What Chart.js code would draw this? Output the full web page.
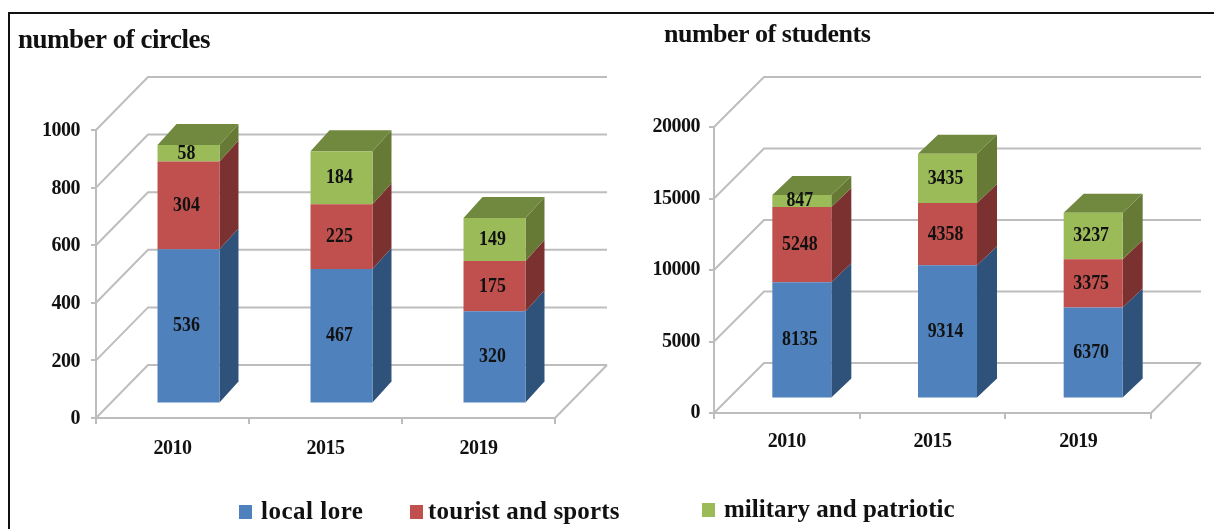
<!DOCTYPE html>
<html><head><meta charset="utf-8">
<script src="https://cdn.jsdelivr.net/npm/chart.js@4"></script>
<style>
html,body{margin:0;padding:0;background:#fff;width:1214px;height:529px;overflow:hidden}
#frame{position:absolute;left:8px;top:12px;width:1300px;height:600px;border:2px solid #111;box-sizing:border-box}
canvas{position:absolute;top:0;filter:blur(.45px)}
#c1{left:0}#c2{left:610px}
.lg{position:absolute;font:bold 25px "Liberation Serif",serif;white-space:nowrap;color:#111;filter:blur(.35px)}
.sw{position:absolute;width:13px;height:14px;filter:blur(.3px)}
</style></head><body>
<div id="frame"></div>
<canvas id="c1" width="610" height="529"></canvas>
<canvas id="c2" width="604" height="529"></canvas>
<div id="legend"></div>
<script>
const categories = ['2010','2015','2019'];
const seriesNames = ['local lore','tourist and sports','military and patriotic'];
const circlesLocalLore = [536,467,320];
const circlesTourist = [304,225,175];
const circlesMilitary = [58,184,149];
const studentsLocalLore = [8135,9314,6370];
const studentsTourist = [5248,4358,3375];
const studentsMilitary = [847,3435,3237];
const frontColors = ['#4F81BD','#C0504D','#9BBB59'];
const sideColors = ['#2F527B','#7B3130','#667A36'];
const topColor = '#71893F';
const gridColor = '#BDBDBD';
const serif = '"Liberation Serif"';

const bar3d = {
  id:'bar3d',
  afterLayout(chart,args,o){ chart.titleBlock.left = o.titleX; },
  beforeDraw(chart){ chart.ctx.letterSpacing = '-0.5px'; },
  beforeDatasetsDraw(chart,args,o){
    const {ctx,chartArea:a,scales:{y}} = chart;
    ctx.save();
    ctx.strokeStyle = gridColor; ctx.lineWidth = 2;
    y.ticks.forEach(t=>{
      const p = y.getPixelForValue(t.value);
      ctx.beginPath();
      ctx.moveTo(a.left,p);
      ctx.lineTo(a.left+o.wallX,p-o.wallY);
      ctx.lineTo(a.right+o.wallX,p-o.wallY);
      ctx.stroke();
    });
    const p0 = y.getPixelForValue(0);
    ctx.beginPath();ctx.moveTo(a.right,p0);ctx.lineTo(a.right+o.wallX,p0-o.wallY);ctx.stroke();
    ctx.translate(o.shiftX,-o.shiftY);
    chart.data.datasets.forEach((ds,i)=>{
      chart.getDatasetMeta(i).data.forEach(el=>{
        const r = el.x+el.width/2, l = el.x-el.width/2;
        ctx.fillStyle = sideColors[i];
        ctx.beginPath();
        ctx.moveTo(r,el.base);ctx.lineTo(r+o.barX,el.base-o.barY);
        ctx.lineTo(r+o.barX,el.y-o.barY);ctx.lineTo(r,el.y);ctx.closePath();ctx.fill();
        if(i===chart.data.datasets.length-1){
          ctx.fillStyle = topColor;
          ctx.beginPath();
          ctx.moveTo(l,el.y);ctx.lineTo(l+o.barX,el.y-o.barY);
          ctx.lineTo(r+o.barX,el.y-o.barY);ctx.lineTo(r,el.y);ctx.closePath();ctx.fill();
        }
      });
    });
    ctx.restore();
    ctx.save();
    ctx.translate(o.shiftX,-o.shiftY);
  },
  afterDatasetsDraw(chart,args,o){
    const {ctx} = chart;
    ctx.font = 'bold 21px '+serif;
    ctx.letterSpacing = '0px';
    ctx.fillStyle = '#111';
    ctx.textAlign='center';ctx.textBaseline='middle';
    chart.data.datasets.forEach((ds,i)=>{
      chart.getDatasetMeta(i).data.forEach((el,j)=>{
        ctx.save();
        ctx.translate(el.x-2,(el.y+el.base)/2);
        ctx.scale(.85,1);
        ctx.fillText(String(ds.data[j]),0,0);
        ctx.restore();
      });
    });
    ctx.restore();
  }
};

function make(id,series,cfg){
  const font = {family:serif,size:20,weight:'bold'};
  new Chart(document.getElementById(id),{
    type:'bar',
    data:{labels:categories,datasets:series.map((d,i)=>({
      label:seriesNames[i],data:d,backgroundColor:frontColors[i],
      stack:'s',barPercentage:1,categoryPercentage:.405,clip:false
    }))},
    plugins:[bar3d],
    options:{
      responsive:false,animation:false,
      layout:{padding:{left:0,right:cfg.right,top:0,bottom:0}},
      plugins:{
        legend:{display:false},tooltip:{enabled:false},
        title:{display:true,text:cfg.title,align:'start',color:'#111',
          font:{family:serif,size:cfg.titleSize,weight:'bold',lineHeight:1.2},
          padding:{top:cfg.titleTop,bottom:cfg.top-cfg.titleTop-cfg.titleSize*1.2}},
        bar3d:cfg.depth
      },
      scales:{
        x:{stacked:true,offset:true,
          afterFit(s){s.height=cfg.bottom;},
          grid:{display:true,drawOnChartArea:false,drawTicks:true,offset:true,tickLength:6,color:gridColor,lineWidth:2},
          border:{display:true,color:gridColor,width:2},
          ticks:{font,color:'#111',padding:cfg.xPad,maxRotation:0,autoSkip:false}},
        y:{stacked:true,min:0,max:cfg.max,
          afterFit(s){s.width=cfg.axisLeft;},
          grid:{display:true,drawOnChartArea:false,drawTicks:true,tickLength:5,color:gridColor,lineWidth:2},
          border:{display:true,color:gridColor,width:2},
          ticks:{font,color:'#111',stepSize:cfg.step,padding:cfg.yPad,labelOffset:cfg.yOff,callback:v=>String(v)}}
      }
    }
  });
}

make('c1',[circlesLocalLore,circlesTourist,circlesMilitary],{
  title:'number of circles',titleSize:27,titleTop:25,axisLeft:96,right:55,top:130,bottom:111,
  max:1000,step:200,xPad:13,yPad:11,yOff:1,
  depth:{titleX:18,wallX:52,wallY:53,barX:19,barY:21,shiftX:16,shiftY:14.5}
});
make('c2',[studentsLocalLore,studentsTourist,studentsMilitary],{
  title:'number of students',titleSize:26,titleTop:20,axisLeft:104,right:63,top:127,bottom:116,
  max:20000,step:5000,xPad:11,yPad:9,yOff:0,
  depth:{titleX:54,wallX:50,wallY:50,barX:20,barY:19,shiftX:15,shiftY:14.5}
});

const legendSwatchX = [239,410,702];
const legendTextX = [261,428,724];
const legendY = [497,497,495];
const legendSpacing = [.5,.15,0];
const legend = document.getElementById('legend');
seriesNames.forEach((n,i)=>{
  const sw = document.createElement('div');
  sw.className='sw';
  sw.style.cssText=`left:${legendSwatchX[i]}px;top:${legendY[i]+8}px;background:${frontColors[i]}`;
  legend.appendChild(sw);
  const t = document.createElement('div');
  t.className='lg';t.textContent=n;
  t.style.cssText=`left:${legendTextX[i]}px;top:${legendY[i]}px;letter-spacing:${legendSpacing[i]}px`;
  legend.appendChild(t);
});
</script>
</body></html>
